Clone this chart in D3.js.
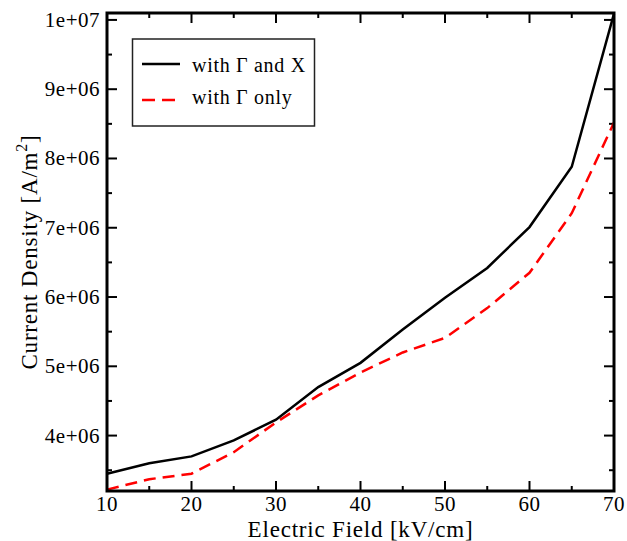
<!DOCTYPE html>
<html>
<head>
<meta charset="utf-8">
<script src="https://cdn.jsdelivr.net/npm/d3@7"></script>
<style>
  body { margin: 0; background: #fff; }
  svg { font-family: "Liberation Serif", "DejaVu Serif", serif; }
</style>
</head>
<body>
<svg id="chart"></svg>
<script>
// Electric field values (kV/cm)
const fields = [10, 15, 20, 25, 30, 35, 40, 45, 50, 55, 60, 65, 70];
// Current density with Gamma and X valleys
const withGammaX = [3.45e6, 3.60e6, 3.70e6, 3.93e6, 4.23e6, 4.70e6, 5.05e6, 5.53e6, 5.99e6, 6.42e6, 7.01e6, 7.88e6, 1.009e7];
// Current density with Gamma valley only
const withGamma = [3.22e6, 3.37e6, 3.45e6, 3.76e6, 4.19e6, 4.58e6, 4.91e6, 5.20e6, 5.41e6, 5.84e6, 6.35e6, 7.21e6, 8.52e6];
const xTicks = [10, 20, 30, 40, 50, 60, 70];
const yTicks = [4e6, 5e6, 6e6, 7e6, 8e6, 9e6, 1e7];
const yTickLabels = ["4e+06", "5e+06", "6e+06", "7e+06", "8e+06", "9e+06", "1e+07"];

const svg = d3.select("#chart"),
      margin = {top: 13, right: 13, bottom: 50, left: 107},
      W = 627, H = 541,
      width = W - margin.left - margin.right,
      height = H - margin.top - margin.bottom;

svg.attr("width", W).attr("height", H);

const g = svg.append("g").attr("transform", "translate(" + margin.left + "," + margin.top + ")");

const x = d3.scaleLinear().domain([10, 70]).range([0, width]);
const y = d3.scaleLinear().domain([3.2e6, 1.01e7]).range([height, 0]);

const minorX = d3.range(15, 70, 10);
const minorY = d3.range(3.5e6, 1.01e7, 1e6);

// ticks on all four sides, pointing inward
function ticks(vals, len, horiz) {
  vals.forEach(v => {
    if (horiz) {
      const px = x(v);
      g.append("line").attr("x1", px).attr("x2", px).attr("y1", height).attr("y2", height - len);
      g.append("line").attr("x1", px).attr("x2", px).attr("y1", 0).attr("y2", len);
    } else {
      const py = y(v);
      g.append("line").attr("x1", 0).attr("x2", len).attr("y1", py).attr("y2", py);
      g.append("line").attr("x1", width).attr("x2", width - len).attr("y1", py).attr("y2", py);
    }
  });
}
ticks(xTicks, 10, true);
ticks(minorX, 5, true);
ticks(yTicks, 10, false);
ticks(minorY, 5, false);
g.selectAll("line").attr("stroke", "#000").attr("stroke-width", 2);

// tick labels
g.selectAll(".xl").data(xTicks).enter().append("text")
  .attr("x", d => x(d)).attr("y", height + 20)
  .attr("text-anchor", "middle").style("font-size", "21px")
  .style("letter-spacing", "0.5px").text(d => d);

g.selectAll(".yl").data(yTicks).enter().append("text")
  .attr("x", -7).attr("y", d => y(d) + 7)
  .attr("text-anchor", "end").style("font-size", "21px")
  .style("letter-spacing", "0.5px")
  .text((d, i) => yTickLabels[i]);

// lines
const line = d3.line().x((d, i) => x(fields[i])).y(d => y(d));

g.append("path").datum(withGamma)
  .attr("fill", "none").attr("stroke", "#ff0000").attr("stroke-width", 2.5)
  .attr("stroke-dasharray", "12,7").attr("d", line);

g.append("path").datum(withGammaX)
  .attr("fill", "none").attr("stroke", "#000").attr("stroke-width", 2.5)
  .attr("d", line);

// frame
g.append("rect").attr("x", 0).attr("y", 0).attr("width", width).attr("height", height)
  .attr("fill", "none").attr("stroke", "#000").attr("stroke-width", 3);

// legend
const lg = svg.append("g");
lg.append("rect").attr("x", 132.5).attr("y", 39).attr("width", 182).attr("height", 87)
  .attr("fill", "#fff").attr("stroke", "#222").attr("stroke-width", 1.5);
lg.append("line").attr("x1", 142).attr("x2", 180).attr("y1", 64).attr("y2", 64)
  .attr("stroke", "#000").attr("stroke-width", 2.5);
lg.append("line").attr("x1", 142).attr("x2", 175).attr("y1", 100).attr("y2", 100)
  .attr("stroke", "#ff0000").attr("stroke-width", 2.5).attr("stroke-dasharray", "13,7");
lg.append("text").attr("x", 192).attr("y", 72).style("font-size", "20px")
  .style("letter-spacing", "0.7px").text("with \u0393 and X");
lg.append("text").attr("x", 192).attr("y", 104).style("font-size", "20px")
  .style("letter-spacing", "0.7px").text("with \u0393 only");

// axis titles
svg.append("text").attr("x", margin.left + width / 2).attr("y", 537)
  .attr("text-anchor", "middle").style("font-size", "23px")
  .style("letter-spacing", "0.8px").text("Electric Field [kV/cm]");

const yt = svg.append("text")
  .attr("transform", "translate(37," + (margin.top + height / 2) + ") rotate(-90)")
  .attr("text-anchor", "middle").style("font-size", "23px")
  .style("letter-spacing", "0.8px");
yt.append("tspan").text("Current Density [A/m");
yt.append("tspan").attr("dy", -10).style("font-size", "16px").text("2");
yt.append("tspan").attr("dy", 10).text("]");
</script>
</body>
</html>
